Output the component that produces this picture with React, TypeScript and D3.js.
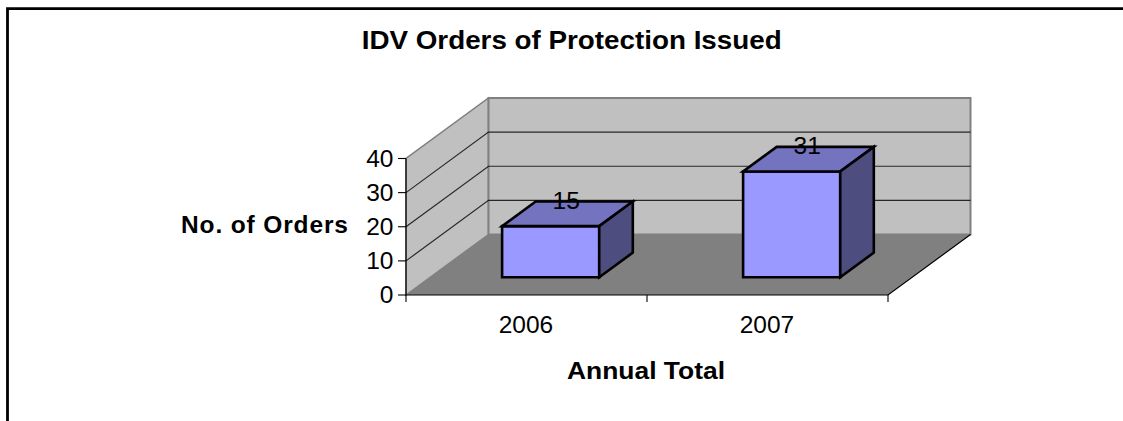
import React from "react";
import * as d3 from "d3";

const categories = ["2006", "2007"];
const values = [15, 31];
const yTicks = [0, 10, 20, 30, 40];
const chartTitle = "IDV Orders of Protection Issued";
const xTitle = "Annual Total";
const yTitle = "No. of Orders";

const W = 1123, H = 421;
const front = { left: 406, right: 888, bottom: 295, top: 158.5 };
const depth = { dx: 82.5, dy: -60.5 };
const barDepth = { start: 0.293, end: 0.70 };
const font = "'Liberation Sans', Arial, sans-serif";
const labelSize = 24.5;

const x = d3.scaleBand<string>().domain(categories).range([front.left, front.right]).paddingInner(0).paddingOuter(0);
const y = d3.scaleLinear().domain([0, 40]).range([front.bottom, front.top]);
const barW = x.bandwidth() * 0.403;

// oblique projection: z in [0,1] is the depth into the chart
const pt = (px: number, v: number, z: number): [number, number] => [px + depth.dx * z, y(v) + depth.dy * z];
const line = d3.line();
const poly = (pts: [number, number][]) => line(pts)! + "Z";

export default function App() {
  const vMax = 40;
  return (
    <svg width={W} height={H} style={{ position: "fixed", left: 0, top: 0, background: "#fff" }} fontFamily={font} fill="#000">
      {/* outer frame */}
      <path d={`M7.5 ${H}V8.7H${W}`} fill="none" stroke="#000" strokeWidth={2.8} />

      <text x={571.7} y={49.2} textAnchor="middle" fontWeight="bold" fontSize={25} textLength={420} lengthAdjust="spacingAndGlyphs">{chartTitle}</text>

      {/* floor */}
      <path d={poly([pt(front.left, 0, 0), pt(front.right, 0, 0), pt(front.right, 0, 1), pt(front.left, 0, 1)])} fill="#808080" />
      {/* side wall */}
      <path d={poly([pt(front.left, 0, 0), pt(front.left, vMax, 0), pt(front.left, vMax, 1), pt(front.left, 0, 1)])} fill="#c0c0c0" stroke="#808080" strokeWidth={1.5} />
      {/* back wall */}
      <path d={poly([pt(front.left, 0, 1), pt(front.left, vMax, 1), pt(front.right, vMax, 1), pt(front.right, 0, 1)])} fill="#c0c0c0" stroke="#808080" strokeWidth={2} />

      {/* gridlines */}
      {yTicks.filter(t => t > 0 && t < vMax).map(t => (
        <path key={t} d={line([pt(front.left, t, 0), pt(front.left, t, 1), pt(front.right, t, 1)])!} fill="none" stroke="#000" strokeOpacity={0.8} strokeWidth={1.2} />
      ))}

      {/* axes */}
      <path d={line([pt(front.left, vMax, 0), pt(front.left, 0, 0), pt(front.right, 0, 0), pt(front.right, 0, 1)])!} fill="none" stroke="#000" strokeWidth={1.2} />
      {yTicks.map(t => (
        <g key={t}>
          <line x1={front.left - 8} x2={front.left} y1={y(t)} y2={y(t)} stroke="#000" strokeWidth={1.1} />
          <text x={front.left - 12.5} y={y(t) + 8} textAnchor="end" fontSize={labelSize}>{t}</text>
        </g>
      ))}
      {[front.left, x(categories[1])!, front.right].map((tx, i) => (
        <line key={i} x1={tx} x2={tx} y1={front.bottom} y2={front.bottom + 7} stroke="#000" strokeWidth={1.1} />
      ))}
      {categories.map(c => (
        <text key={c} x={x(c)! + x.bandwidth() / 2 - 0.5} y={333} textAnchor="middle" fontSize={labelSize}>{c}</text>
      ))}
      <text x={646} y={379} textAnchor="middle" fontWeight="bold" fontSize={labelSize} textLength={158} lengthAdjust="spacingAndGlyphs">{xTitle}</text>
      <text x={264.5} y={233} textAnchor="middle" fontWeight="bold" fontSize={labelSize} textLength={167} lengthAdjust="spacing">{yTitle}</text>

      {/* bars */}
      {categories.map((c, i) => {
        const v = values[i];
        const l = x(c)! + (x.bandwidth() - barW) / 2;
        const r = l + barW;
        const z0 = barDepth.start, z1 = barDepth.end;
        return (
          <g key={c} stroke="#000" strokeWidth={2.6} strokeLinejoin="miter">
            <path d={poly([pt(l, 0, z0), pt(r, 0, z0), pt(r, v, z0), pt(l, v, z0)])} fill="#9999ff" />
            <path d={poly([pt(l, v, z0), pt(r, v, z0), pt(r, v, z1), pt(l, v, z1)])} fill="#7373bf" />
            <path d={poly([pt(r, 0, z0), pt(r, 0, z1), pt(r, v, z1), pt(r, v, z0)])} fill="#4d4d80" />
          </g>
        );
      })}
      {categories.map((c, i) => {
        const [tx, ty] = pt(x(c)! + x.bandwidth() / 2, values[i], 0.5);
        return <text key={c} x={tx - 1.5} y={ty - 5} textAnchor="middle" fontSize={labelSize}>{values[i]}</text>;
      })}
    </svg>
  );
}
